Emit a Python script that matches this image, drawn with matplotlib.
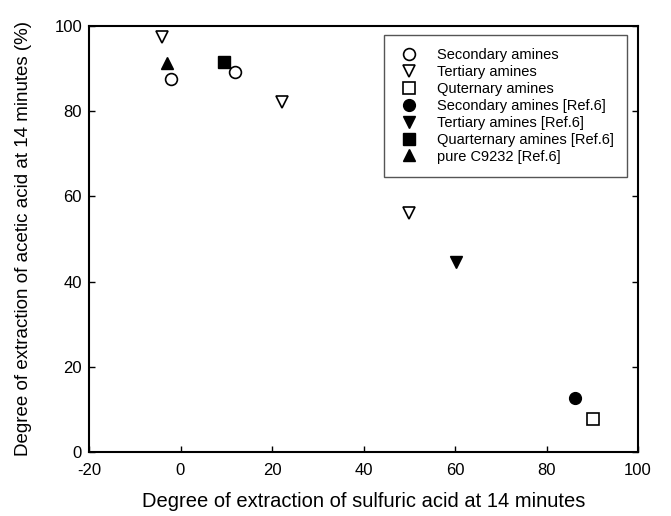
import matplotlib
matplotlib.use("Agg")
import matplotlib.pyplot as plt

plt.rcParams['font.family'] = ['Liberation Sans', 'DejaVu Sans']
plt.rcParams['axes.unicode_minus'] = False

# Data
sec_x = [-2.1, 11.9]
sec_y = [87.6, 89.1]
ter_x = [-4.0, 22.1, 50.0]
ter_y = [97.4, 82.1, 56.0]
qua_x = [90.1]
qua_y = [7.7]
sec_ref_x = [86.2]
sec_ref_y = [12.7]
ter_ref_x = [60.2]
ter_ref_y = [44.5]
qua_ref_x = [9.4]
qua_ref_y = [91.5]
pure_ref_x = [-3.0]
pure_ref_y = [91.3]

labels = ["Secondary amines", "Tertiary amines", "Quternary amines",
          "Secondary amines [Ref.6]", "Tertiary amines [Ref.6]",
          "Quarternary amines [Ref.6]", "pure C9232 [Ref.6]"]
x_ticks = [-20, 0, 20, 40, 60, 80, 100]
y_ticks = [0, 20, 40, 60, 80, 100]

fig = plt.figure(figsize=(6.71, 5.16), dpi=100)
ax = fig.add_axes([89/671, 1-452/516, (638-89)/671, (452-26)/516])

ms = 8.5
ax.plot(sec_x, sec_y, 'o', ms=ms, mfc='white', mec='black', mew=1.2, ls='none', label=labels[0])
ax.plot(ter_x, ter_y, 'v', ms=ms+0.5, mfc='white', mec='black', mew=1.2, ls='none', label=labels[1])
ax.plot(qua_x, qua_y, 's', ms=ms-0.5, mfc='white', mec='black', mew=1.2, ls='none', label=labels[2])
ax.plot(sec_ref_x, sec_ref_y, 'o', ms=ms, mfc='black', mec='black', ls='none', label=labels[3])
ax.plot(ter_ref_x, ter_ref_y, 'v', ms=ms+0.5, mfc='black', mec='black', ls='none', label=labels[4])
ax.plot(qua_ref_x, qua_ref_y, 's', ms=ms-0.5, mfc='black', mec='black', ls='none', label=labels[5])
ax.plot(pure_ref_x, pure_ref_y, '^', ms=ms+0.5, mfc='black', mec='black', ls='none', label=labels[6])

ax.set_xlim(-20, 100)
ax.set_ylim(0, 100)
ax.set_xticks(x_ticks)
ax.set_yticks(y_ticks)
ax.tick_params(direction='in', length=4, width=1, labelsize=12, right=True, top=False)
ax.tick_params(axis='x', pad=8)
ax.tick_params(axis='y', pad=5)
for s in ax.spines.values():
    s.set_linewidth(1.5)

ax.set_xlabel("Degree of extraction of sulfuric acid at 14 minutes", fontsize=14.5, labelpad=10)
ax.set_ylabel("Degree of extraction of acetic acid at 14 minutes (%)", fontsize=13.5, labelpad=16)

leg = ax.legend(loc='upper right', bbox_to_anchor=(0.98, 0.979), borderaxespad=0,
                fontsize=10.5, fancybox=False, framealpha=1, edgecolor='#555555',
                labelspacing=0.2, handlelength=1.6, handletextpad=1.15, borderpad=0.9)
leg.get_frame().set_linewidth(1.0)

fig.savefig("out.png", dpi=100)
